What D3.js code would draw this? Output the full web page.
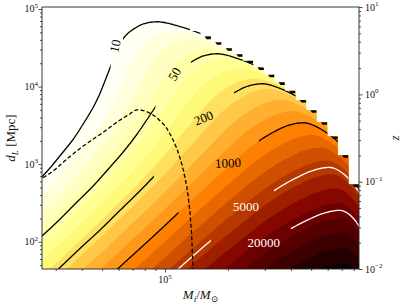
<!DOCTYPE html>
<html lang="en">
<head>
<meta charset="utf-8">
<title>SNR contours</title>
<script src="https://cdn.jsdelivr.net/npm/d3@7"></script>
<style>
  body { margin: 0; background: #ffffff; }
  svg text { font-family: 'Liberation Serif', 'DejaVu Serif', serif; fill: #111; }
</style>
</head>
<body>
<div id="chart"></div>
<script>
// ---- data ---------------------------------------------------------------
var massRange = [2.58e4, 8.47e5];        // M_i / M_sun shown on x
var redshiftRange = [0.01, 10];          // z on the right axis, sets d_L range
var maxObsMass = 8.9e5;                  // detector-frame mass above which no signal (white)

// log10 of detector-frame mass M_i(1+z)  ->  log10( SNR * d_L[Mpc] * (1+z) )
var obsMassLog  = [4.30, 4.40, 4.50, 4.60, 4.70, 4.80, 4.90, 5.00, 5.10, 5.20, 5.30, 5.40, 5.50, 5.60, 5.70, 5.78, 5.86, 5.92, 5.96, 6.02, 6.20, 7.00];
var responseLog = [3.49, 3.73, 3.97, 4.22, 4.46, 4.71, 4.95, 5.19, 5.43, 5.66, 5.88, 6.09, 6.29, 6.46, 6.60, 6.69, 6.73, 6.62, 6.42, 6.00, 5.00, 1.00];
// dashed curve (SNR = 10 of the second model): mass taken as M_i(1+z)^0.6
var dashRedshiftPower = 0.6;
var dashMassLog     = [4.30, 4.40, 4.50, 4.60, 4.70, 4.80, 4.90, 4.96, 5.02, 5.07, 5.10, 5.118, 5.129, 5.133, 5.136, 5.145, 5.20, 7.00];
var dashResponseLog = [3.55, 3.79, 3.97, 4.19, 4.39, 4.57, 4.76, 4.86, 4.95, 4.89, 4.75, 4.54, 4.02, 3.42, 2.65, 1.00, -3.0, -3.0];

var fillLevelsLog = [1.0, 1.2, 1.4, 1.6, 1.8, 2.0, 2.2, 2.4, 2.6, 2.8, 3.0, 3.2, 3.4, 3.6, 3.8, 4.0, 4.2, 4.4, 4.6, 4.8, 5.0, 5.2];
var lineLevels  = [10, 50, 200, 1000, 5000, 20000];
var lineLabels  = ['10', '50', '200', '1000', '5000', '20000'];
var lineColours = ['#000', '#000', '#000', '#000', '#fff', '#fff'];
// mass interval where each line is left out around its label
var gapMass = [[5.5e4, 6.3e4], [9.0e4, 1.33e5], [8.85e4, 2.14e5], [1.16e5, 2.81e5], [1.66e5, 3.32e5], [2.58e4, 4.0e5]];

// ---- layout ---------------------------------------------------------------
var W = 407, H = 307;
var pL = 42, pR = 359, pT = 7, pB = 269;
var labelSpots = [
  { m: 5.76e4, d: 3.33e4, rot: -78 },
  { m: 1.11e5, d: 1.45e4, rot: -58 },
  { m: 1.53e5, d: 3.95e3, rot: -22 },
  { m: 2.00e5, d: 1.04e3, rot: -3 },
  { m: 2.44e5, d: 282, rot: 0 },
  { m: 2.97e5, d: 97, rot: 0 }
];

// ---- cosmology: luminosity distance table ---------------------------------
var H0 = 67.7, Om = 0.31, cLight = 299792.458;
function invE(z) { return 1 / Math.sqrt(Om * Math.pow(1 + z, 3) + 1 - Om); }
var zTab = [0], dTab = [0];
var dz = 0.001, dc = 0;
for (var k = 1; k <= 13000; k++) {
  var zz = k * dz;
  dc += dz / 6 * (invE(zz - dz) + 4 * invE(zz - dz / 2) + invE(zz));
  zTab.push(zz);
  dTab.push((1 + zz) * dc * cLight / H0);
}
function dL(z) {
  var i = Math.min(zTab.length - 2, Math.floor(z / dz));
  var t = (z - zTab[i]) / dz;
  return dTab[i] + t * (dTab[i + 1] - dTab[i]);
}
function zOf(d) {
  var i = Math.max(1, Math.min(dTab.length - 1, d3.bisectLeft(dTab, d)));
  var t = (d - dTab[i - 1]) / (dTab[i] - dTab[i - 1]);
  return zTab[i - 1] + t * dz;
}

// monotone cubic through a read-off table
function makeCurve(xs, ys) {
  var n = xs.length, m = new Array(n), dk = [];
  for (var k = 0; k < n - 1; k++) dk.push((ys[k + 1] - ys[k]) / (xs[k + 1] - xs[k]));
  m[0] = dk[0]; m[n - 1] = dk[n - 2];
  for (k = 1; k < n - 1; k++) m[k] = dk[k - 1] * dk[k] <= 0 ? 0 : (dk[k - 1] + dk[k]) / 2;
  for (k = 0; k < n - 1; k++) {
    if (dk[k] === 0) { m[k] = m[k + 1] = 0; continue; }
    var a = m[k] / dk[k], b = m[k + 1] / dk[k], s = a * a + b * b;
    if (s > 9) { var tt = 3 / Math.sqrt(s); m[k] = tt * a * dk[k]; m[k + 1] = tt * b * dk[k]; }
  }
  return function(v) {
    if (v <= xs[0]) return ys[0] + m[0] * (v - xs[0]);
    if (v >= xs[n - 1]) return ys[n - 1];
    var k = d3.bisectRight(xs, v) - 1;
    var h = xs[k + 1] - xs[k], t = (v - xs[k]) / h, t2 = t * t, t3 = t2 * t;
    return (2 * t3 - 3 * t2 + 1) * ys[k] + (t3 - 2 * t2 + t) * h * m[k] +
           (-2 * t3 + 3 * t2) * ys[k + 1] + (t3 - t2) * h * m[k + 1];
  };
}
var response = makeCurve(obsMassLog, responseLog);
var dashResponse = makeCurve(dashMassLog, dashResponseLog);

// ---- scales ----------------------------------------------------------------
var x = d3.scaleLog().domain(massRange).range([pL, pR]);
var y = d3.scaleLog().domain([dL(redshiftRange[0]), dL(redshiftRange[1])]).range([pB, pT]);
var zScale = d3.scaleLog().domain(redshiftRange).range([pB, pT]);

function afmhotR(t) {
  var v = 1 - t;
  function c(a) { return Math.max(0, Math.min(1, a)) * 255; }
  return d3.rgb(c(2 * v), c(2 * v - 0.5), c(2 * v - 1)).formatHex();
}

function logSNR(px, py) {
  var d = y.invert(py), lz = Math.log10(1 + zOf(d));
  return response(Math.log10(x.invert(px)) + lz) - Math.log10(d) - lz;
}

// ---- field on a pixel grid --------------------------------------------------
var step = 1.5, pad = 3;
var gx0 = pL - pad, gy0 = pT - pad;
var nx = Math.ceil((pR - pL + 2 * pad) / step), ny = Math.ceil((pB - pT + 2 * pad) / step);
var F0 = new Array(nx * ny), F2 = new Array(nx * ny);
for (var j = 0; j < ny; j++) {
  var d = y.invert(gy0 + (j + 0.5) * step);
  var lz = Math.log10(1 + zOf(d)), ld = Math.log10(d);
  for (var i = 0; i < nx; i++) {
    var lM = Math.log10(x.invert(gx0 + (i + 0.5) * step));
    F0[j * nx + i] = response(lM + lz) - ld - lz;
    F2[j * nx + i] = dashResponse(lM + dashRedshiftPower * lz) - ld - lz;
  }
}
var contourGen = d3.contours().size([nx, ny]);
var gridPath = d3.geoPath(d3.geoIdentity().scale(step).translate([gx0, gy0]));

// ---- svg ---------------------------------------------------------------------
var svg = d3.select('#chart').append('svg').attr('width', W).attr('height', H);
var defs = svg.append('defs');
defs.append('clipPath').attr('id', 'plotArea').append('rect')
  .attr('x', pL).attr('y', pT).attr('width', pR - pL).attr('height', pB - pT);

// staircase mask edge (coarse columns)
var nCols = 30, colW = (pR - pL) / nCols, steps = [];
for (var c = 0; c < nCols; c++) {
  var xa = pL + c * colW, xb = xa + colW;
  var zc = maxObsMass / x.invert((xa + xb) / 2) - 1;
  var ya = zc >= redshiftRange[1] ? pT : (zc <= redshiftRange[0] ? pB : y(dL(zc)));
  steps.push({ xa: xa, xb: xb, y: Math.max(pT, Math.min(pB, ya)) });
}
var stairPts = [[pL, pB]];
steps.forEach(function(s) { stairPts.push([s.xa, s.y], [s.xb, s.y]); });
stairPts.push([pR, pB]);
defs.append('clipPath').attr('id', 'unmasked').append('path')
  .attr('d', 'M' + stairPts.join('L') + 'Z');

// filled bands
var fillG = svg.append('g').attr('clip-path', 'url(#unmasked)');
var L0 = fillLevelsLog[0], L1 = fillLevelsLog[fillLevelsLog.length - 1];
for (var k = 0; k < fillLevelsLog.length - 1; k++) {
  var mid = (fillLevelsLog[k] + fillLevelsLog[k + 1]) / 2;
  fillG.append('path')
    .attr('d', gridPath(contourGen.contour(F0, fillLevelsLog[k])))
    .attr('fill', afmhotR((mid - L0) / (L1 - L0)));
}

// contour lines
var lineG = svg.append('g').attr('clip-path', 'url(#unmasked)');
lineLevels.forEach(function(lv, k) {
  var cp = defs.append('clipPath').attr('id', 'gap' + k);
  var g0 = x(gapMass[k][0]), g1 = x(gapMass[k][1]);
  cp.append('rect').attr('x', pL - 10).attr('y', 0).attr('width', g0 - pL + 10).attr('height', H);
  cp.append('rect').attr('x', g1).attr('y', 0).attr('width', pR + 10 - g1).attr('height', H);
  lineG.append('g').attr('clip-path', 'url(#gap' + k + ')')
    .append('path')
      .attr('d', gridPath(contourGen.contour(F0, Math.log10(lv))))
      .attr('fill', 'none')
      .attr('stroke', lineColours[k])
      .attr('stroke-width', 1.3);
});

// dashed curve
svg.append('g').attr('clip-path', 'url(#plotArea)')
  .append('path')
    .attr('d', gridPath(contourGen.contour(F2, 1)))
    .attr('fill', 'none')
    .attr('stroke', '#000')
    .attr('stroke-width', 1.3)
    .attr('stroke-dasharray', '4,2.3');

// black marks along the stair edge (only where the field is filled)
svg.append('g').selectAll('path')
  .data(steps.filter(function(s) {
    return s.y > pT + 1 && s.y < pB - 1 && logSNR(s.xb - 1, s.y + 1.5) >= fillLevelsLog[0];
  }))
  .enter().append('path')
    .attr('d', function(s) {
      return 'M' + (s.xb - 6.5) + ',' + s.y + 'L' + (s.xb - 0.3) + ',' + s.y +
             'L' + (s.xb - 0.3) + ',' + (s.y + 2.6) + 'L' + (s.xb - 4.5) + ',' + (s.y + 2.6) + 'Z';
    })
    .attr('fill', '#000');

// contour labels
labelSpots.forEach(function(p, k) {
  svg.append('text')
    .attr('transform', 'translate(' + x(p.m) + ',' + y(p.d) + ') rotate(' + p.rot + ')')
    .attr('text-anchor', 'middle')
    .attr('dy', '0.35em')
    .style('font-size', '13px')
    .style('fill', lineColours[k])
    .text(lineLabels[k]);
});

// ---- axes -----------------------------------------------------------------------
function powers(domain) {
  var out = [];
  for (var e = Math.floor(Math.log10(domain[0])); e <= Math.ceil(Math.log10(domain[1])); e++) {
    var v = Math.pow(10, e);
    if (v >= domain[0] * 0.999 && v <= domain[1] * 1.001) out.push(v);
  }
  return out;
}
function minors(domain) {
  var out = [];
  for (var e = Math.floor(Math.log10(domain[0])); e <= Math.ceil(Math.log10(domain[1])); e++) {
    for (var m = 2; m <= 9; m++) {
      var v = m * Math.pow(10, e);
      if (v >= domain[0] && v <= domain[1]) out.push(v);
    }
  }
  return out;
}
function tickAxis(axisFn, scale, transform) {
  var dom = scale.domain().slice().sort(d3.ascending);
  [[powers(dom), 3.5], [minors(dom), 2]].forEach(function(set) {
    svg.append('g').attr('transform', transform)
      .call(axisFn(scale).tickValues(set[0]).tickSize(set[1]).tickSizeOuter(0).tickFormat(''))
      .call(function(g) { g.select('.domain').remove(); g.selectAll('line').attr('stroke', '#222').attr('stroke-width', 0.8); });
  });
}
tickAxis(d3.axisLeft, y, 'translate(' + pL + ',0)');
tickAxis(d3.axisRight, zScale, 'translate(' + pR + ',0)');
tickAxis(d3.axisBottom, x, 'translate(0,' + pB + ')');

function powerLabel(sel, v) {
  var e = Math.round(Math.log10(v));
  sel.append('tspan').text('10');
  sel.append('tspan').attr('dy', -4.5).style('font-size', '7px').text(e < 0 ? '\u2212' + (-e) : e);
}
powers(y.domain()).forEach(function(v) {
  svg.append('text').attr('x', pL - 4).attr('y', y(v) + 3.5).attr('text-anchor', 'end')
    .style('font-size', '10px').call(powerLabel, v);
});
powers(zScale.domain()).forEach(function(v) {
  svg.append('text').attr('x', pR + 6).attr('y', zScale(v) + 3.5).attr('text-anchor', 'start')
    .style('font-size', '10px').call(powerLabel, v);
});
powers(x.domain()).forEach(function(v) {
  svg.append('text').attr('x', x(v)).attr('y', pB + 14).attr('text-anchor', 'middle')
    .style('font-size', '10px').call(powerLabel, v);
});

// spines
svg.append('rect').attr('x', pL).attr('y', pT).attr('width', pR - pL).attr('height', pB - pT)
  .attr('fill', 'none').attr('stroke', '#222').attr('stroke-width', 0.9);

// axis titles
var yl = svg.append('text').attr('transform', 'translate(15,' + ((pT + pB) / 2) + ') rotate(-90)')
  .attr('text-anchor', 'middle').style('font-size', '13px');
yl.append('tspan').style('font-style', 'italic').text('d');
yl.append('tspan').attr('dy', 3).style('font-size', '9px').style('font-style', 'italic').text('L');
yl.append('tspan').attr('dy', -3).text(' [Mpc]');

var xl = svg.append('text').attr('x', (pL + pR) / 2).attr('y', pB + 30)
  .attr('text-anchor', 'middle').style('font-size', '13px');
xl.append('tspan').style('font-style', 'italic').text('M');
xl.append('tspan').attr('dy', 3).style('font-size', '9px').style('font-style', 'italic').text('i');
xl.append('tspan').attr('dy', -3).text('/');
xl.append('tspan').style('font-style', 'italic').text('M');
xl.append('tspan').attr('dy', 3).style('font-size', '9px').text('\u2299');

svg.append('text').attr('transform', 'translate(' + (pR + 40) + ',' + ((pT + pB) / 2) + ') rotate(-90)')
  .attr('text-anchor', 'middle').style('font-size', '13px').style('font-style', 'italic').text('z');
</script>
</body>
</html>
